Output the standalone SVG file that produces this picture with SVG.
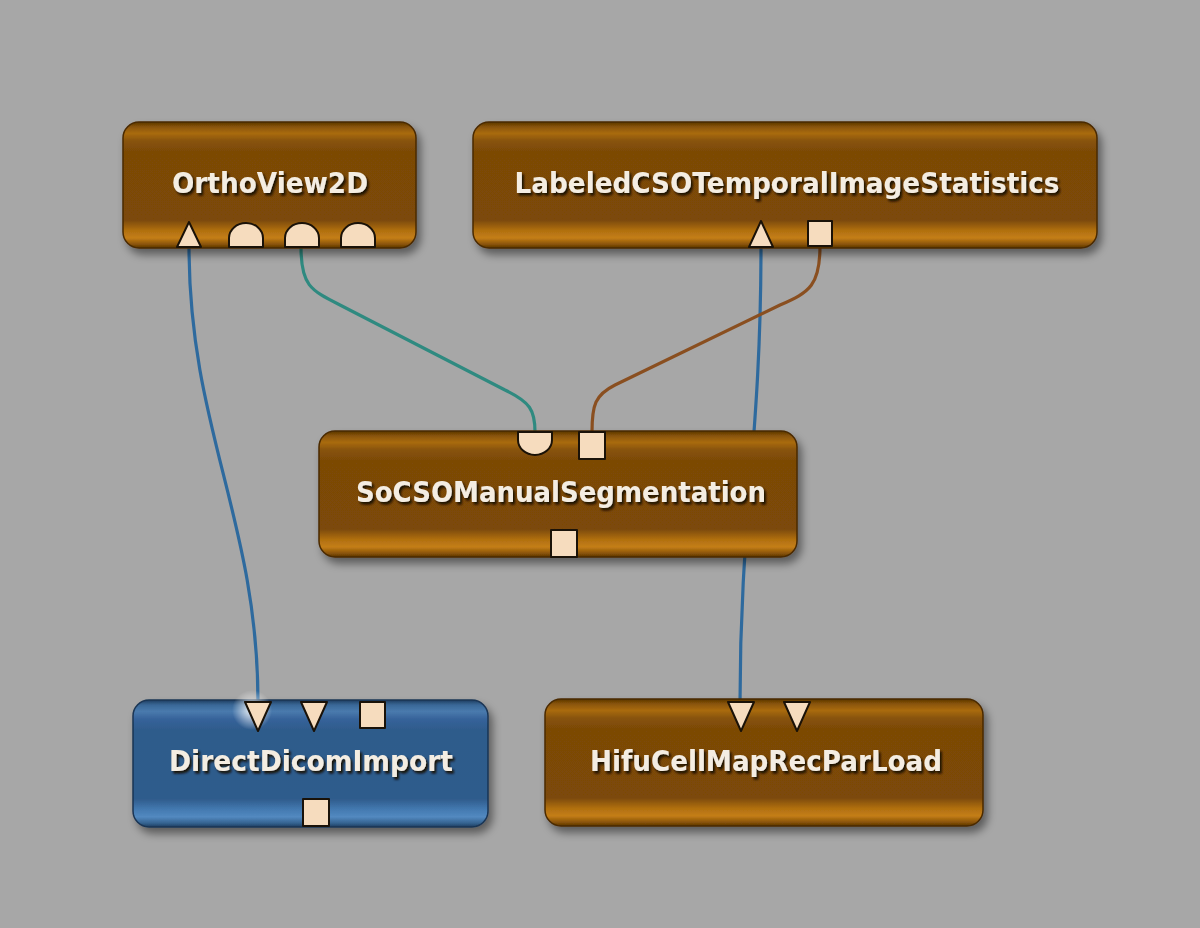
<svg xmlns="http://www.w3.org/2000/svg" width="1200" height="928" viewBox="0 0 1200 928">
<defs>
<linearGradient id="gBrown" x1="0" y1="0" x2="0" y2="1">
<stop offset="0" stop-color="#5a3503"/>
<stop offset="0.04" stop-color="#8a5508"/>
<stop offset="0.09" stop-color="#a96b10"/>
<stop offset="0.15" stop-color="#885308"/>
<stop offset="0.24" stop-color="#7b4906"/>
<stop offset="0.78" stop-color="#7c4a07"/>
<stop offset="0.86" stop-color="#b06f10"/>
<stop offset="0.92" stop-color="#c47e16"/>
<stop offset="0.97" stop-color="#8a5408"/>
<stop offset="1" stop-color="#5a3503"/>
</linearGradient>
<linearGradient id="gBlue" x1="0" y1="0" x2="0" y2="1">
<stop offset="0" stop-color="#1f3e60"/>
<stop offset="0.04" stop-color="#3a6898"/>
<stop offset="0.09" stop-color="#4a7aad"/>
<stop offset="0.15" stop-color="#36639a"/>
<stop offset="0.24" stop-color="#2e5b8b"/>
<stop offset="0.78" stop-color="#2f5c8c"/>
<stop offset="0.86" stop-color="#4379b0"/>
<stop offset="0.92" stop-color="#5389c0"/>
<stop offset="0.97" stop-color="#34628f"/>
<stop offset="1" stop-color="#1f3e60"/>
</linearGradient>
<radialGradient id="glow">
<stop offset="0" stop-color="#ffffff" stop-opacity="0.9"/>
<stop offset="1" stop-color="#ffffff" stop-opacity="0"/>
</radialGradient>
<filter id="shadow" x="-10%" y="-20%" width="125%" height="150%">
<feDropShadow dx="4" dy="6" stdDeviation="4" flood-color="#000" flood-opacity="0.45"/>
</filter>
<filter id="tshadow" x="-5%" y="-30%" width="110%" height="160%">
<feDropShadow dx="2" dy="2.5" stdDeviation="1" flood-color="#140a00" flood-opacity="0.95"/>
</filter>
</defs>
<style>
.brown{fill:url(#gBrown);stroke:#4a2a02;stroke-width:1.5}
.blue{fill:url(#gBlue);stroke:#1a3554;stroke-width:1.5}
.lbl{font-family:"DejaVu Sans","Liberation Sans",sans-serif;font-weight:bold;font-size:28px;fill:#f4ede2;text-anchor:middle;filter:url(#tshadow)}
.port{fill:#f6dcbe;stroke:#1a1208;stroke-width:2;stroke-linejoin:round}
.conn{fill:none;stroke-width:3.2;stroke-linecap:round}
</style>
<rect width="1200" height="928" fill="#a7a7a7"/>

<g id="connectors">
<path class="conn" stroke="#2e6a9e" d="M189,246 C189,430 258,520 258,703"/>
<path class="conn" stroke="#2e6a9e" d="M761,246 C761,440 740,520 740,703"/>
<path class="conn" stroke="#2f8a80" d="M301,247 C301,285 310,290 340,305 L505,390 C530,402 535,410 535,432"/>
<path class="conn" stroke="#8a4f20" d="M820,246 C820,285 810,292 780,305 L615,385 C595,395 592,405 592,432"/>
</g>

<g id="OrthoView2D">
<rect class="brown" x="123" y="122" width="293" height="126" rx="16" filter="url(#shadow)"/>
<text class="lbl" x="270" y="193" textLength="196" lengthAdjust="spacingAndGlyphs">OrthoView2D</text>
<polygon class="port" points="177,247 201,247 189,222"/>
<path class="port" d="M229,247 V238 A17,15 0 0 1 263,238 V247 Z"/>
<path class="port" d="M285,247 V238 A17,15 0 0 1 319,238 V247 Z"/>
<path class="port" d="M341,247 V238 A17,15 0 0 1 375,238 V247 Z"/>
</g>

<g id="LabeledCSOTemporalImageStatistics">
<rect class="brown" x="473" y="122" width="624" height="126" rx="16" filter="url(#shadow)"/>
<text class="lbl" x="787" y="193" textLength="545" lengthAdjust="spacingAndGlyphs">LabeledCSOTemporalImageStatistics</text>
<polygon class="port" points="749,247 773,247 761,221"/>
<rect class="port" x="808" y="221" width="24" height="25"/>
</g>

<g id="SoCSOManualSegmentation">
<rect class="brown" x="319" y="431" width="478" height="126" rx="16" filter="url(#shadow)"/>
<text class="lbl" x="561" y="502" textLength="410" lengthAdjust="spacingAndGlyphs">SoCSOManualSegmentation</text>
<path class="port" d="M518,432 H552 V440 A17,15 0 0 1 518,440 Z"/>
<rect class="port" x="579" y="432" width="26" height="27"/>
<rect class="port" x="551" y="530" width="26" height="27"/>
</g>

<g id="DirectDicomImport">
<rect class="blue" x="133" y="700" width="355" height="127" rx="16" filter="url(#shadow)"/>
<circle cx="252" cy="710" r="20" fill="url(#glow)"/>
<text class="lbl" x="311" y="771" textLength="284" lengthAdjust="spacingAndGlyphs">DirectDicomImport</text>
<polygon class="port" points="245,702 271,702 258,731"/>
<polygon class="port" points="301,702 327,702 314,731"/>
<rect class="port" x="360" y="702" width="25" height="26"/>
<rect class="port" x="303" y="799" width="26" height="27"/>
</g>

<g id="HifuCellMapRecParLoad">
<rect class="brown" x="545" y="699" width="438" height="127" rx="16" filter="url(#shadow)"/>
<text class="lbl" x="766" y="771" textLength="352" lengthAdjust="spacingAndGlyphs">HifuCellMapRecParLoad</text>
<polygon class="port" points="728,702 754,702 741,731"/>
<polygon class="port" points="784,702 810,702 797,731"/>
</g>
</svg>
